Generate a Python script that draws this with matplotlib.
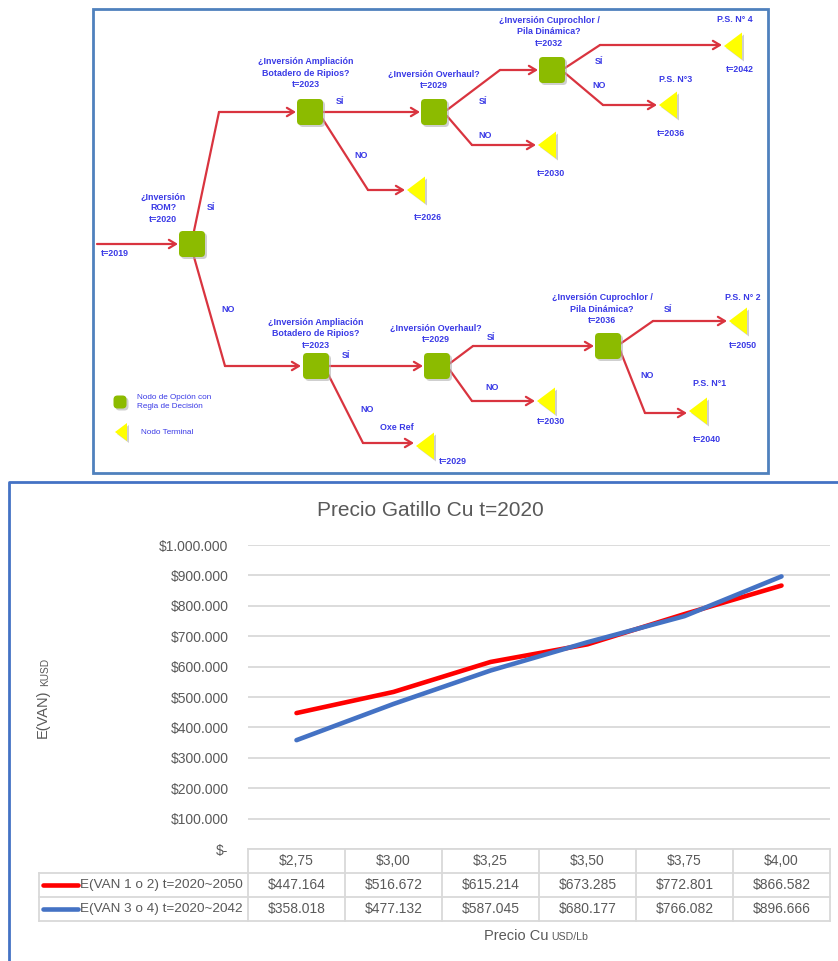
import matplotlib
matplotlib.use('Agg')
import matplotlib.pyplot as plt
from matplotlib.patches import FancyBboxPatch, Polygon, Rectangle

plt.rcParams['font.family'] = ['Liberation Sans', 'DejaVu Sans']

# %% chart data
price_labels = ['$2,75', '$3,00', '$3,25', '$3,50', '$3,75', '$4,00']
van_1o2 = [447164, 516672, 615214, 673285, 772801, 866582]
van_3o4 = [358018, 477132, 587045, 680177, 766082, 896666]
series_names = ['E(VAN 1 o 2) t=2020~2050', 'E(VAN 3 o 4) t=2020~2042']
series_colors = ['#ff0000', '#4472c4']
y_ticks = [0, 100000, 200000, 300000, 400000, 500000, 600000, 700000, 800000, 900000, 1000000]

# %% decision tree layout (pixel coords, y down)
option_nodes = {
    'rom': (192, 244), 'amp_a': (310, 112), 'ovh_a': (434, 112), 'cup_a': (552, 70),
    'amp_b': (316, 366), 'ovh_b': (437, 366), 'cup_b': (608, 346),
}
terminal_tips = [(407, 190), (538, 145), (659, 105), (724, 46),
                 (416, 446), (537, 401), (729, 321), (689, 411)]
edges = [
    [(97, 244), (178, 244)],
    [(194, 231), (219, 112), (296, 112)],
    [(323, 112), (420, 112)],
    [(322, 118), (368, 190), (405, 190)],
    [(447, 110), (500, 70), (538, 70)],
    [(447, 116), (472, 145), (536, 145)],
    [(565, 68), (600, 45), (722, 45)],
    [(565, 73), (603, 105), (657, 105)],
    [(194, 257), (225, 366), (301, 366)],
    [(329, 366), (423, 366)],
    [(327, 372), (363, 443), (414, 443)],
    [(449, 364), (473, 346), (594, 346)],
    [(449, 369), (472, 401), (535, 401)],
    [(620, 344), (653, 321), (727, 321)],
    [(620, 350), (645, 413), (687, 413)],
]
tree_labels = [
    (163, 208, '¿Inversión\nROM?\nt=2020'),
    (211, 208, 'SÍ'),
    (115, 254, 't=2019'),
    (306, 73, '¿Inversión Ampliación\nBotadero de Ripios?\nt=2023'),
    (340, 101, 'SÍ'),
    (361, 156, 'NO'),
    (428, 217, 't=2026'),
    (434, 80, '¿Inversión Overhaul?\nt=2029'),
    (483, 101, 'SÍ'),
    (485, 135, 'NO'),
    (551, 174, 't=2030'),
    (549, 32, '¿Inversión Cuprochlor /\nPila Dinámica?\nt=2032'),
    (599, 61, 'SÍ'),
    (599, 86, 'NO'),
    (676, 80, 'P.S. N°3'),
    (671, 133, 't=2036'),
    (735, 20, 'P.S. N° 4'),
    (740, 70, 't=2042'),
    (228, 309, 'NO'),
    (316, 334, '¿Inversión Ampliación\nBotadero de Ripios?\nt=2023'),
    (346, 356, 'SÍ'),
    (367, 410, 'NO'),
    (397, 427, 'Oxe Ref'),
    (453, 462, 't=2029'),
    (436, 334, '¿Inversión Overhaul?\nt=2029'),
    (491, 337, 'SÍ'),
    (492, 388, 'NO'),
    (551, 422, 't=2030'),
    (602, 309, '¿Inversión Cuprochlor /\nPila Dinámica?\nt=2036'),
    (668, 310, 'SÍ'),
    (647, 376, 'NO'),
    (743, 297, 'P.S. N° 2'),
    (743, 346, 't=2050'),
    (710, 383, 'P.S. N°1'),
    (707, 440, 't=2040'),
]

RED = '#d9343f'
GREEN = '#8cbb00'
YELLOW = '#ffff00'
TXT_BLUE = '#3a3ae6'
GREY = '#595959'


def option_node(ax, cx, cy, s=26):
    ax.add_patch(FancyBboxPatch((cx - s / 2 + 2, cy - s / 2 + 2), s, s,
                                boxstyle='round,pad=0,rounding_size=4',
                                fc='#b0b0b0', ec='none', alpha=0.6, zorder=3))
    ax.add_patch(FancyBboxPatch((cx - s / 2, cy - s / 2), s, s,
                                boxstyle='round,pad=0,rounding_size=4',
                                fc=GREEN, ec='none', zorder=4))


def terminal_node(ax, tx, ty, w=18, h=27):
    pts = [(tx, ty), (tx + w, ty - h / 2), (tx + w, ty + h / 2)]
    ax.add_patch(Polygon([(x + 2, y + 2) for x, y in pts], fc='#b0b0b0', ec='none',
                         alpha=0.6, zorder=3))
    ax.add_patch(Polygon(pts, fc=YELLOW, ec='none', zorder=4))


fig = plt.figure(figsize=(8.38, 9.61), dpi=100)
ax = fig.add_axes([0, 0, 1, 1])
ax.set_xlim(0, 838)
ax.set_ylim(961, 0)
ax.axis('off')

# %% decision tree
ax.add_patch(Rectangle((93, 9), 675, 464, fill=False, ec='#4f81bd', lw=2, zorder=1))

for pts in edges:
    xs = [p[0] for p in pts]
    ys = [p[1] for p in pts]
    ax.plot(xs[:-1], ys[:-1], color=RED, lw=1.6, solid_capstyle='round', zorder=2)
    ax.annotate('', xy=pts[-1], xytext=pts[-2],
                arrowprops=dict(arrowstyle='->,head_length=0.5,head_width=0.3',
                                color=RED, lw=1.6, shrinkA=0, shrinkB=0), zorder=2)

for cx, cy in option_nodes.values():
    option_node(ax, cx, cy)
for tx, ty in terminal_tips:
    terminal_node(ax, tx, ty)

for x, y, s in tree_labels:
    ax.text(x, y, s, color=TXT_BLUE, fontsize=6.4, fontweight='bold', ha='center',
            va='center', linespacing=1.3, zorder=5)

# legend of node types
option_node(ax, 120, 402, s=13)
ax.text(137, 402, 'Nodo de Opción con\nRegla de Decisión', color=TXT_BLUE, fontsize=5.9,
        ha='left', va='center', linespacing=1.35)
terminal_node(ax, 115, 432, w=12, h=18)
ax.text(141, 432, 'Nodo Terminal', color=TXT_BLUE, fontsize=5.9, ha='left', va='center')

# %% chart frame
ax.plot([9, 9, 838], [961, 482, 482], color='#4472c4', lw=2, zorder=1)
ax.text(430, 511, 'Precio Gatillo Cu t=2020', color=GREY, fontsize=15,
        ha='center', va='center')
ax.text(43, 738, 'E(VAN)', color=GREY, fontsize=10.5, rotation=90, ha='center', va='bottom')
ax.text(45, 686, 'KUSD', color=GREY, fontsize=7.3, rotation=90, ha='center', va='bottom')

# %% line chart
L, R, TOP, BOT = 248, 830, 545, 849
cax = fig.add_axes([L / 838, 1 - BOT / 961, (R - L) / 838, (BOT - TOP) / 961])
cax.patch.set_alpha(0)
xs = list(range(len(price_labels)))
cax.plot(xs, van_1o2, color=series_colors[0], lw=3.3, solid_capstyle='round', zorder=3)
cax.plot(xs, van_3o4, color=series_colors[1], lw=3.3, solid_capstyle='round', zorder=4)
cax.set_xlim(-0.5, len(price_labels) - 0.5)
cax.set_ylim(0, 1000000)
cax.set_yticks(y_ticks)
cax.set_yticklabels(['$-' if v == 0 else '${:,}'.format(v).replace(',', '.') for v in y_ticks])
cax.tick_params(axis='y', length=0, pad=14, labelsize=10, labelcolor=GREY)
cax.set_xticks([])
cax.grid(axis='y', color='#d9d9d9', lw=1.3)
cax.set_axisbelow(True)
for sp in cax.spines.values():
    sp.set_visible(False)

# %% data table under the chart
col_w = (R - L) / len(price_labels)
row_y = [849, 873, 897, 921]
TL = 39
tbl_kw = dict(color='#d9d9d9', lw=1.3, zorder=2)
ax.plot([L, R], [row_y[0], row_y[0]], **tbl_kw)
for y in row_y[1:]:
    ax.plot([TL, R], [y, y], **tbl_kw)
ax.plot([TL, TL], [row_y[1], row_y[3]], **tbl_kw)
for i in range(len(price_labels) + 1):
    ax.plot([L + i * col_w] * 2, [row_y[0], row_y[3]], **tbl_kw)

for i, lab in enumerate(price_labels):
    ax.text(L + (i + 0.5) * col_w, (row_y[0] + row_y[1]) / 2, lab, color=GREY,
            fontsize=10, ha='center', va='center')
for r, (name, vals, c) in enumerate(zip(series_names, [van_1o2, van_3o4], series_colors)):
    yc = (row_y[r + 1] + row_y[r + 2]) / 2
    ax.plot([43, 78], [yc, yc], color=c, lw=3.3, solid_capstyle='round')
    ax.text(80, yc, name, color=GREY, fontsize=9.7, ha='left', va='center')
    for i, v in enumerate(vals):
        ax.text(L + (i + 0.5) * col_w, yc, '${:,}'.format(v).replace(',', '.'),
                color=GREY, fontsize=10, ha='center', va='center')

ax.text(548, 936, 'Precio Cu', color=GREY, fontsize=10.5, ha='right', va='center')
ax.text(551, 937, 'USD/Lb', color=GREY, fontsize=7.6, ha='left', va='center')

fig.savefig('out.png', dpi=100)
